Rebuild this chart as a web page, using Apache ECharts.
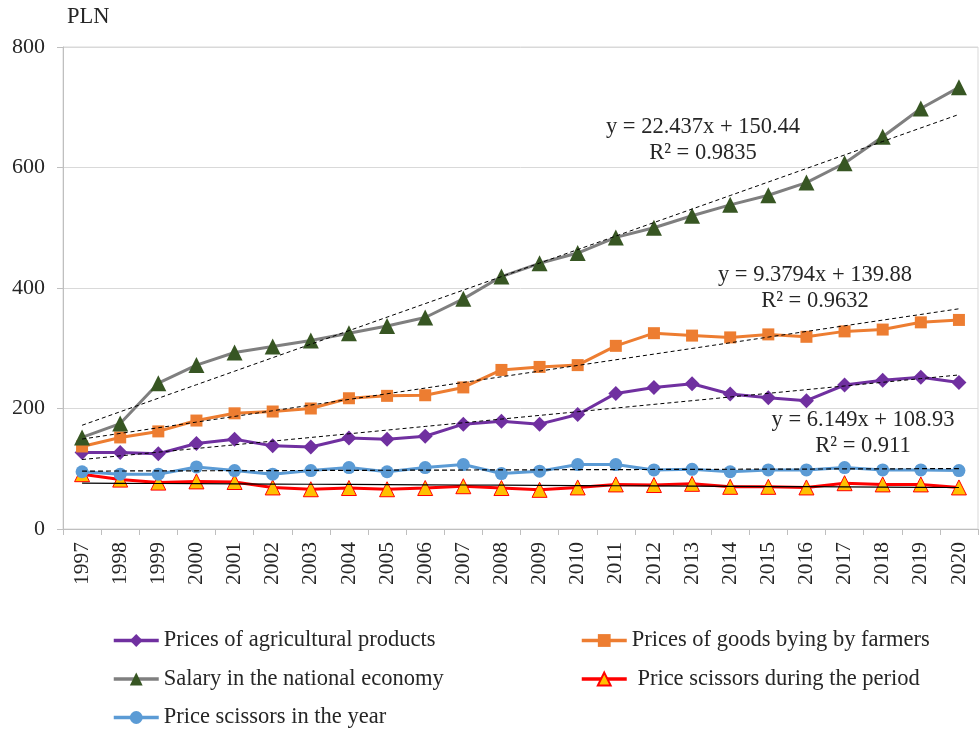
<!DOCTYPE html>
<html>
<head>
<meta charset="utf-8">
<script src="https://cdn.jsdelivr.net/npm/echarts@6/dist/echarts.min.js"></script>
<style>
  html, body { margin: 0; padding: 0; background: #fff; }
  #main { width: 979px; height: 729px; }
</style>
</head>
<body>
<div id="main"></div>
<script>
var years = ['1997','1998','1999','2000','2001','2002','2003','2004','2005','2006','2007','2008',
             '2009','2010','2011','2012','2013','2014','2015','2016','2017','2018','2019','2020'];

// values (PLN)
var agriPrices   = [127, 127, 125, 142, 149, 138, 136, 151, 149, 154, 174, 179,
                    174, 190, 225, 235, 241, 224, 218, 213, 239, 247, 252, 243];
var farmerGoods  = [137, 152, 162, 180, 192, 195, 200, 217, 221, 222, 235, 264,
                    269, 272, 304, 325, 321, 318, 323, 319, 328, 331, 343, 347];
var salary       = [152, 175, 242, 272, 293, 303, 313, 325, 337, 351, 382, 419,
                    441, 458, 484, 500, 520, 538, 554, 575, 607, 651, 698, 733];
var scissorsPeriod = [91, 82, 77, 79, 78, 69, 66, 68, 66, 68, 71, 68,
                      65, 69, 74, 73, 75, 70, 70, 69, 76, 74, 74, 69];
var scissorsYear = [95, 91, 91, 103, 97, 91, 97, 102, 95, 102, 107, 92,
                    96, 107, 107, 98, 99, 95, 98, 98, 102, 98, 98, 97];

var eqSalary = 'y = 22.437x + 150.44\nR² = 0.9835';
var eqFarmer = 'y = 9.3794x + 139.88\nR² = 0.9632';
var eqAgri   = 'y = 6.149x + 108.93\nR² = 0.911';

var font = 'Liberation Serif, Times New Roman, serif';
var textColor = '#262626';

// least-squares linear trend, x = 1..n like the spreadsheet
function trend(vals) {
  var n = vals.length, sx = 0, sy = 0, sxx = 0, sxy = 0;
  for (var i = 0; i < n; i++) {
    var x = i + 1;
    sx += x; sy += vals[i]; sxx += x * x; sxy += x * vals[i];
  }
  var b = (n * sxy - sx * sy) / (n * sxx - sx * sx);
  var a = (sy - b * sx) / n;
  return vals.map(function (v, i) { return +(a + b * (i + 1)).toFixed(2); });
}

function trendSeries(vals, type, width) {
  return {
    type: 'line',
    data: trend(vals),
    symbol: 'none',
    silent: true,
    z: 5,
    lineStyle: { color: '#000', width: width || 1, type: type }
  };
}

var legendText = { fontFamily: font, fontSize: 22.5, color: textColor };

var myChart = echarts.init(document.getElementById('main'));
var option = {
  animation: false,
  textStyle: { fontFamily: font },
  grid: {
    left: 63, right: 1, top: 47, bottom: 200,
    show: true, borderColor: '#d9d9d9', borderWidth: 1
  },
  legend: [{
    orient: 'vertical',
    left: 112, top: 629, height: 140, padding: 0,
    itemWidth: 45, itemHeight: 16, itemGap: 15.5,
    lineStyle: { width: 3.5 },
    textStyle: legendText,
    data: ['Prices of agricultural products', 'Salary in the national economy', 'Price scissors in the year']
  }, {
    orient: 'vertical',
    left: 580, top: 629, height: 140, padding: 0,
    itemWidth: 45, itemHeight: 16, itemGap: 15.5,
    lineStyle: { width: 3.5 },
    textStyle: legendText,
    data: ['Prices of goods bying by farmers', ' Price scissors during the period']
  }],
  xAxis: {
    type: 'category',
    data: years,
    boundaryGap: true,
    axisLine: { lineStyle: { color: '#bfbfbf', width: 1 } },
    axisTick: { show: true, length: 6, lineStyle: { color: '#bfbfbf' } },
    axisLabel: { rotate: 90, margin: 13, fontSize: 21.5, color: textColor, fontFamily: font }
  },
  yAxis: {
    type: 'value',
    min: 0, max: 800, interval: 200,
    name: 'PLN',
    nameLocation: 'end',
    nameGap: 18,
    nameTextStyle: { fontSize: 22.5, color: textColor, fontFamily: font, align: 'left', padding: [0, 0, 0, 4] },
    axisLine: { show: true, lineStyle: { color: '#bfbfbf', width: 1 } },
    axisTick: { show: true, length: 6, lineStyle: { color: '#bfbfbf' } },
    axisLabel: { margin: 18, fontSize: 22, color: textColor, fontFamily: font },
    splitLine: { lineStyle: { color: '#d9d9d9', width: 1 } }
  },
  series: [
    {
      name: 'Prices of agricultural products',
      type: 'line', data: agriPrices,
      symbol: 'diamond', symbolSize: 15,
      lineStyle: { color: '#7030A0', width: 3 },
      itemStyle: { color: '#7030A0' }
    },
    {
      name: 'Prices of goods bying by farmers',
      type: 'line', data: farmerGoods,
      symbol: 'rect', symbolSize: 12,
      lineStyle: { color: '#ED7D31', width: 3 },
      itemStyle: { color: '#ED7D31' }
    },
    {
      name: 'Salary in the national economy',
      type: 'line', data: salary,
      symbol: 'triangle', symbolSize: 16,
      lineStyle: { color: '#7F7F7F', width: 3 },
      itemStyle: { color: '#375623' }
    },
    {
      name: ' Price scissors during the period',
      type: 'line', data: scissorsPeriod,
      symbol: 'triangle', symbolSize: 15,
      lineStyle: { color: '#FF0000', width: 3 },
      itemStyle: { color: '#FFC000', borderColor: '#FF0000', borderWidth: 1 }
    },
    {
      name: 'Price scissors in the year',
      type: 'line', data: scissorsYear,
      symbol: 'circle', symbolSize: 13,
      lineStyle: { color: '#5B9BD5', width: 3 },
      itemStyle: { color: '#5B9BD5' }
    },
    trendSeries(agriPrices, [4, 3]),
    trendSeries(farmerGoods, [4, 3]),
    trendSeries(salary, [4, 3]),
    trendSeries(scissorsPeriod, 'solid', 1.2),
    trendSeries(scissorsYear, [5, 3], 1.2)
  ]
};

function eqLabel(txt, cx, cy) {
  return {
    type: 'text', x: cx, y: cy, z: 10,
    style: {
      text: txt, font: '22.5px ' + font, fill: textColor,
      align: 'center', verticalAlign: 'middle', lineHeight: 26
    }
  };
}
option.graphic = [
  eqLabel(eqSalary, 703, 140),
  eqLabel(eqFarmer, 815, 288),
  eqLabel(eqAgri, 863, 433)
];

myChart.setOption(option);
</script>
</body>
</html>
